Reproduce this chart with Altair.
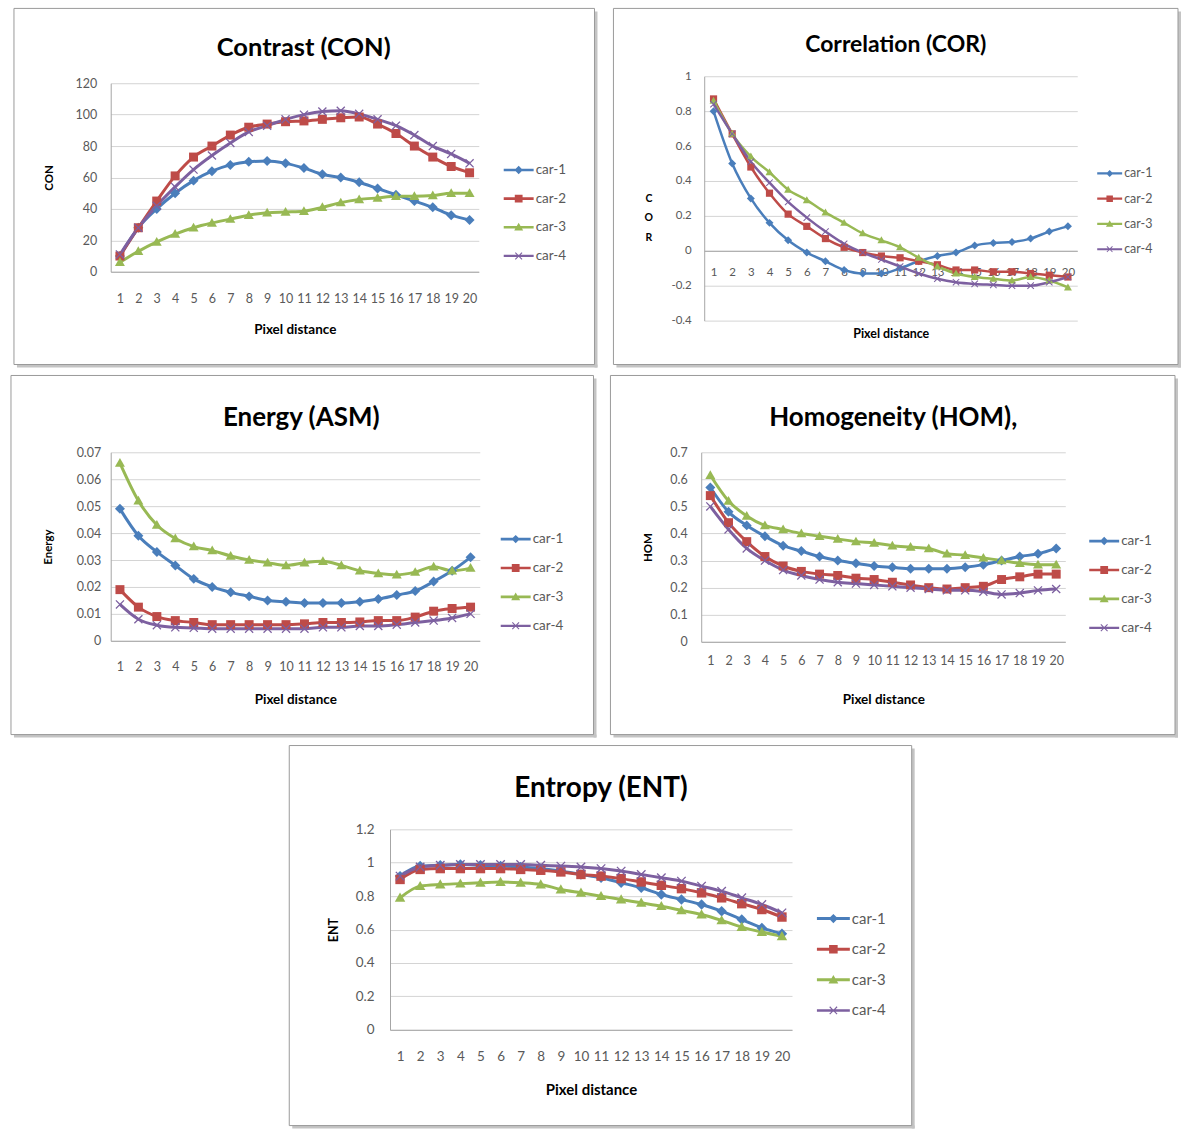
import altair as alt
import pandas as pd

pixel_distance = list(range(1, 21))
cars = ["car-1", "car-2", "car-3", "car-4"]
car_colors = ["#4A7EBB", "#BE4B48", "#98B954", "#7D60A0"]

# Contrast (CON)
con_car1 = [10, 28, 40, 50, 58, 64, 68, 70, 70.5, 69, 66, 62, 60, 57, 53, 49, 45, 41, 36, 33]
con_car2 = [10, 28, 45, 61, 73, 80, 87, 92, 94, 95.5, 96, 97, 98, 98.5, 94, 88, 80, 73, 67, 63]
con_car3 = [6, 13, 19, 24, 28, 31, 33.5, 36, 37.5, 38, 38.5, 41, 44, 46, 47, 48, 48, 48.5, 50, 50]
con_car4 = [11, 28, 42, 54, 65, 74, 82, 89, 93, 97, 100, 102, 102.5, 100.5, 97, 93, 87, 80, 75, 69]

# Correlation (COR)
cor_car1 = [0.80, 0.50, 0.30, 0.16, 0.06, -0.01, -0.06, -0.11, -0.13, -0.13, -0.10, -0.06, -0.03, -0.01, 0.03, 0.045, 0.05, 0.07, 0.11, 0.14]
cor_car2 = [0.87, 0.67, 0.48, 0.33, 0.21, 0.14, 0.07, 0.02, -0.01, -0.03, -0.04, -0.06, -0.08, -0.11, -0.11, -0.12, -0.12, -0.13, -0.14, -0.15]
cor_car3 = [0.86, 0.67, 0.54, 0.45, 0.35, 0.29, 0.22, 0.16, 0.10, 0.06, 0.02, -0.04, -0.09, -0.13, -0.15, -0.16, -0.17, -0.15, -0.17, -0.21]
cor_car4 = [0.84, 0.67, 0.51, 0.39, 0.28, 0.19, 0.11, 0.04, -0.01, -0.05, -0.09, -0.13, -0.16, -0.18, -0.19, -0.195, -0.20, -0.20, -0.18, -0.15]

# Energy (ASM)
asm_car1 = [0.049, 0.039, 0.033, 0.028, 0.023, 0.020, 0.018, 0.0165, 0.015, 0.0145, 0.014, 0.014, 0.014, 0.0145, 0.0155, 0.017, 0.0185, 0.022, 0.026, 0.031]
asm_car2 = [0.019, 0.0125, 0.009, 0.0075, 0.0068, 0.006, 0.006, 0.006, 0.006, 0.006, 0.0063, 0.0068, 0.0068, 0.007, 0.0075, 0.0075, 0.0088, 0.011, 0.012, 0.0125]
asm_car3 = [0.066, 0.052, 0.043, 0.038, 0.035, 0.0335, 0.0315, 0.030, 0.029, 0.028, 0.029, 0.0295, 0.028, 0.026, 0.025, 0.0245, 0.0255, 0.0275, 0.026, 0.027]
asm_car4 = [0.0135, 0.008, 0.0058, 0.005, 0.0048, 0.0045, 0.0045, 0.0045, 0.0045, 0.0045, 0.0045, 0.005, 0.005, 0.0055, 0.0055, 0.006, 0.0068, 0.0075, 0.0085, 0.010]

# Homogeneity (HOM)
hom_car1 = [0.57, 0.48, 0.43, 0.39, 0.355, 0.335, 0.315, 0.30, 0.29, 0.28, 0.275, 0.27, 0.27, 0.27, 0.275, 0.285, 0.30, 0.315, 0.325, 0.345]
hom_car2 = [0.54, 0.44, 0.37, 0.315, 0.28, 0.26, 0.25, 0.245, 0.235, 0.23, 0.22, 0.21, 0.20, 0.195, 0.20, 0.205, 0.23, 0.24, 0.25, 0.25]
hom_car3 = [0.615, 0.52, 0.465, 0.43, 0.415, 0.40, 0.39, 0.38, 0.37, 0.365, 0.355, 0.35, 0.345, 0.325, 0.32, 0.31, 0.30, 0.29, 0.285, 0.285]
hom_car4 = [0.50, 0.415, 0.345, 0.30, 0.265, 0.245, 0.23, 0.22, 0.215, 0.21, 0.205, 0.20, 0.195, 0.19, 0.19, 0.185, 0.175, 0.18, 0.19, 0.195]

# Entropy (ENT)
ent_car1 = [0.92, 0.98, 0.985, 0.99, 0.985, 0.98, 0.975, 0.965, 0.95, 0.93, 0.91, 0.88, 0.85, 0.81, 0.78, 0.75, 0.71, 0.66, 0.61, 0.575]
ent_car2 = [0.90, 0.96, 0.965, 0.965, 0.965, 0.965, 0.96, 0.955, 0.945, 0.93, 0.92, 0.905, 0.885, 0.865, 0.845, 0.82, 0.79, 0.755, 0.72, 0.675]
ent_car3 = [0.79, 0.86, 0.87, 0.875, 0.88, 0.885, 0.88, 0.87, 0.84, 0.82, 0.80, 0.78, 0.76, 0.74, 0.715, 0.69, 0.655, 0.615, 0.585, 0.56]
ent_car4 = [0.92, 0.975, 0.985, 0.99, 0.99, 0.99, 0.99, 0.985, 0.98, 0.975, 0.965, 0.95, 0.93, 0.91, 0.89, 0.86, 0.83, 0.79, 0.75, 0.70]

con_ticks = [0, 20, 40, 60, 80, 100, 120]
cor_ticks = [-0.4, -0.2, 0, 0.2, 0.4, 0.6, 0.8, 1]
asm_ticks = [0, 0.01, 0.02, 0.03, 0.04, 0.05, 0.06, 0.07]
hom_ticks = [0, 0.1, 0.2, 0.3, 0.4, 0.5, 0.6, 0.7]
ent_ticks = [0, 0.2, 0.4, 0.6, 0.8, 1, 1.2]

FONT = "Lato"
LABEL_COLOR = "#595959"

# marker shapes (unit square -1..1)
marker_paths = [
    "M0,-1L1,0L0,1L-1,0Z",
    "M-0.9,-0.9H0.9V0.9H-0.9Z",
    "M0,-1L1,0.75L-1,0.75Z",
    "M-0.9,-0.72L-0.72,-0.9L0,-0.18L0.72,-0.9L0.9,-0.72L0.18,0L0.9,0.72L0.72,0.9L0,0.18L-0.72,0.9L-0.9,0.72L-0.18,0Z",
]
# legend symbols: line + marker
legend_paths = [
    "M-1,-0.09H1V0.09H-1Z M0,-0.28L0.28,0L0,0.28L-0.28,0Z",
    "M-1,-0.09H1V0.09H-1Z M-0.26,-0.26H0.26V0.26H-0.26Z",
    "M-1,-0.09H1V0.09H-1Z M0,-0.3L0.3,0.22L-0.3,0.22Z",
    "M-1,-0.08H1V0.08H-1Z M-0.25,-0.2L-0.2,-0.25L0,-0.05L0.2,-0.25L0.25,-0.2L0.05,0L0.25,0.2L0.2,0.25L0,0.05L-0.2,0.25L-0.25,0.2L-0.05,0Z",
]


def long_df(series):
    rows = []
    for car, vals in zip(cars, series):
        for d, v in zip(pixel_distance, vals):
            rows.append({"d": d, "v": v, "car": car})
    return pd.DataFrame(rows)


def panel(series, p):
    df = long_df(series)
    w, h = p["w"], p["h"]
    bx1, bx2, by1, by2 = p["box"]
    one = pd.DataFrame({"k": [0]})

    ytitle_kwargs = dict(
        title=p["ytitle"], titleFont=FONT, titleFontSize=p["ytfs"], titleFontWeight="bold",
        titleColor="#000000", titleX=p["ytx"], titleAlign="center", titleBaseline="middle",
    )
    if p.get("ytangle") is not None:
        ytitle_kwargs["titleAngle"] = p["ytangle"]
        ytitle_kwargs["titleLineHeight"] = p["ytlh"]

    yscale = dict(domain=p["ydom"], nice=False, zero=False)
    if p.get("yrange"):
        yscale["range"] = p["yrange"]
    y_enc = alt.Y(
        "v:Q",
        scale=alt.Scale(**yscale),
        axis=alt.Axis(
            values=p["yticks"], labelExpr="'' + datum.value", labelFont=FONT,
            labelFontSize=p["lfs"], labelColor=LABEL_COLOR, labelPadding=p["ylp"],
            ticks=False, tickSize=0, domainColor="#a6a6a6", gridColor="#d4d4d4",
            **ytitle_kwargs,
        ),
    )
    x_axis = dict(
        labelAngle=0, labelOverlap=False, labelFont=FONT, labelFontSize=p["lfs"],
        labelColor=LABEL_COLOR, labelPadding=p["xlp"], ticks=False, tickSize=0,
        grid=False, domainColor="#a6a6a6", title="Pixel distance", titleFont=FONT,
        titleFontSize=p["xtfs"], titleFontWeight="bold", titleColor="#000000",
        titleY=p["xty"], titleBaseline="middle",
    )
    if p.get("xoff"):
        x_axis["offset"] = p["xoff"]
    x_enc = alt.X("d:O", scale=alt.Scale(padding=0.5), axis=alt.Axis(**x_axis))

    cscale = alt.Scale(domain=cars, range=car_colors)
    leg = alt.Legend(
        orient="none", legendX=p["legx"], legendY=p["legy"], title=None,
        labelFont=FONT, labelFontSize=p["legfs"], labelColor=LABEL_COLOR,
        symbolSize=p["symw"] ** 2, rowPadding=p["rowpad"], labelOffset=2,
        padding=0, symbolStrokeWidth=0, symbolOpacity=1,
    )

    layers = [
        alt.Chart(one).mark_rect(color="#c4c4c4").encode(
            x=alt.value(bx2), x2=alt.value(bx2 + 3), y=alt.value(by1 + 3), y2=alt.value(by2 + 3)),
        alt.Chart(one).mark_rect(color="#c4c4c4").encode(
            x=alt.value(bx1 + 3), x2=alt.value(bx2 + 3), y=alt.value(by2), y2=alt.value(by2 + 3)),
        alt.Chart(one).mark_rect(fillOpacity=0, stroke="#9a9a9a", strokeWidth=1).encode(
            x=alt.value(bx1), x2=alt.value(bx2), y=alt.value(by1), y2=alt.value(by2)),
        alt.Chart(df).mark_line(strokeWidth=p["lw"], interpolate="monotone").encode(
            x=x_enc, y=y_enc, stroke=alt.Stroke("car:N", scale=cscale, legend=None)),
    ]
    for car, path in zip(cars, marker_paths):
        layers.append(alt.Chart(df[df["car"] == car]).mark_point(
            filled=True, opacity=1, size=p["msize"], shape=path).encode(
            x=x_enc, y=y_enc, fill=alt.Fill("car:N", scale=cscale, legend=None)))
    layers.append(alt.Chart(df).mark_point(filled=True, opacity=0).encode(
        x=x_enc, y=y_enc, color=alt.Color("car:N", scale=cscale, legend=leg),
        shape=alt.Shape("car:N", scale=alt.Scale(domain=cars, range=legend_paths), legend=leg)))

    return alt.layer(*layers).properties(
        width=w, height=h,
        title=alt.TitleParams(
            p["title"], font=FONT, fontSize=p["tfs"], fontWeight="bold", color="#000000",
            anchor="middle", baseline="middle", offset=p["toff"], dx=p["tdx"],
        ),
    )


p1 = dict(w=369, h=189, box=(-97, 485, -75, 282), title="Contrast (CON)", tfs=25.5, toff=-66, tdx=9,
          ydom=[0, 120], yticks=con_ticks, lfs=12.5, ylp=14, ytitle="CON", ytfs=11.5, ytx=-61,
          xlp=21, xty=58, xtfs=13.5, legx=394, legy=72, symw=30, rowpad=6.7, legfs=13.5,
          lw=3, msize=100)
p2 = dict(w=374, h=238, yrange=[238, -7], box=(-91, 475, -75, 282), title="Correlation (COR)",
          tfs=23, toff=-60, tdx=5,
          ydom=[-0.4, 1], yticks=cor_ticks, lfs=11.5, ylp=13, ytitle=["C", "O", "R"], ytfs=10.5,
          ytx=-56, ytangle=0, ytlh=19.5, xlp=16, xty=83, xtfs=12.5, xoff=-70,
          legx=394, legy=78, symw=25, rowpad=6.3, legfs=12.5, lw=2.5, msize=64)
p3 = dict(w=370, h=189, box=(-100, 484, -77, 283), title="Energy (ASM)", tfs=26, toff=-69, tdx=6,
          ydom=[0, 0.07], yticks=asm_ticks, lfs=12.5, ylp=10, ytitle="Energy", ytfs=11.5, ytx=-62,
          xlp=20, xty=59, xtfs=13.5, legx=391, legy=72, symw=30, rowpad=7, legfs=13.5,
          lw=3, msize=100)
p4 = dict(w=365, h=190, box=(-91, 475, -77, 283), title="Homogeneity (HOM),", tfs=26, toff=-69,
          tdx=10,
          ydom=[0, 0.7], yticks=hom_ticks, lfs=12.5, ylp=14, ytitle="HOM", ytfs=11.5, ytx=-53,
          xlp=13, xty=58, xtfs=13.5, legx=389, legy=74, symw=30, rowpad=7, legfs=13.5,
          lw=3, msize=100)
p5 = dict(w=403, h=201, box=(-101, 523, -84, 297), title="Entropy (ENT)", tfs=28, toff=-72,
          tdx=10,
          ydom=[0, 1.2], yticks=ent_ticks, lfs=13.5, ylp=16, ytitle="ENT", ytfs=12.5, ytx=-57,
          xlp=20, xty=60, xtfs=15, legx=428, legy=73, symw=33, rowpad=5.7, legfs=15,
          lw=3, msize=110)

c1 = panel([con_car1, con_car2, con_car3, con_car4], p1)
c2 = panel([cor_car1, cor_car2, cor_car3, cor_car4], p2)
c3 = panel([asm_car1, asm_car2, asm_car3, asm_car4], p3)
c4 = panel([hom_car1, hom_car2, hom_car3, hom_car4], p4)
c5 = panel([ent_car1, ent_car2, ent_car3, ent_car4], p5)

spacer = alt.Chart(pd.DataFrame({"k": [0]})).mark_point(opacity=0).encode(
    x=alt.value(0), y=alt.value(0)).properties(width=163, height=10)

row1 = alt.hconcat(c1, c2, spacing=15).resolve_scale(color="independent", shape="independent")
row2 = alt.hconcat(c3, c4, spacing=13).resolve_scale(color="independent", shape="independent")
row3 = alt.hconcat(spacer, c5, spacing=15).resolve_scale(color="independent", shape="independent")

chart = alt.vconcat(row1, row2, row3, spacing=7).resolve_scale(
    color="independent", shape="independent"
).properties(
    padding={"left": 10, "top": 6, "right": 0, "bottom": 0},
    background="#ffffff",
).configure_view(stroke=None)

chart.save("out.html", embed_options={"renderer": "svg", "actions": False})
